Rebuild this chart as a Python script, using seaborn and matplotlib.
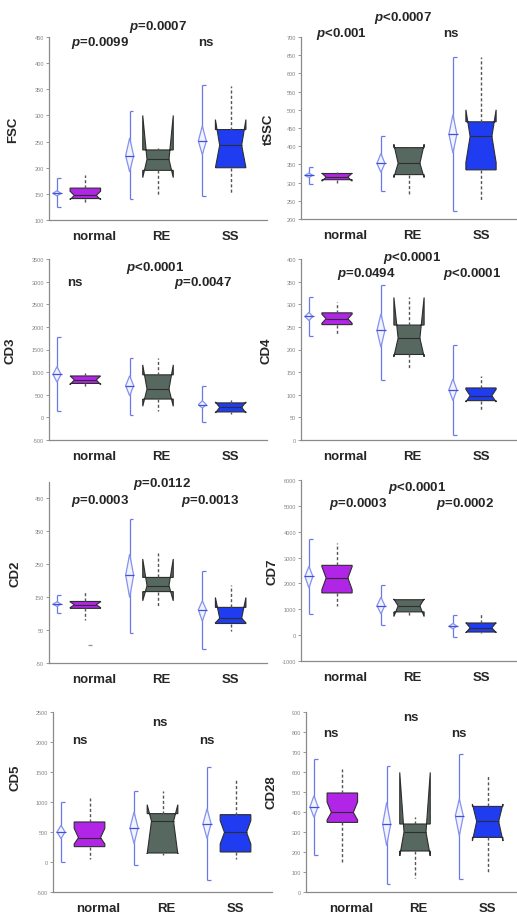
import numpy as np
import pandas as pd
import matplotlib.pyplot as plt
import matplotlib.path as mpath
import seaborn as sns

sns.set_theme(style="white")
plt.rcParams['font.family'] = ['Liberation Sans', 'DejaVu Sans']
plt.rcParams['mathtext.fontset'] = 'custom'
plt.rcParams['mathtext.it'] = 'Liberation Sans:italic:bold'
plt.rcParams['mathtext.rm'] = 'Liberation Sans:bold'

groups = ['normal', 'RE', 'SS']
box_colors = ['#b025e6', '#56685f', '#1f3cf0']

# box: min, q1, median, q3, max ; notch: low, high
# diamond: mean, 95% ci, +/- sd whisker
fsc_box = [[133, 141, 147, 161, 187], [145, 195, 216, 234, 238], [150, 200, 243, 273, 357]]
fsc_notch = [[139, 155], [181, 300], [200, 292]]
fsc_mean = [151, 223, 251]
fsc_ci = [[146, 156], [192, 257], [225, 280]]
fsc_sd = [[124, 180], [140, 308], [145, 358]]

tssc_box = [[300, 308, 315, 325, 330], [270, 322, 353, 396, 398], [250, 335, 427, 467, 646]]
tssc_notch = [[304, 326], [314, 405], [355, 500]]
tssc_mean = [320, 353, 433]
tssc_ci = [[314, 326], [328, 380], [381, 487]]
tssc_sd = [[296, 342], [278, 428], [222, 646]]

cd3_box = [[680, 750, 830, 915, 1000], [150, 405, 625, 940, 1310], [80, 120, 220, 320, 420]]
cd3_notch = [[720, 915], [245, 1160], [100, 340]]
cd3_mean = [950, 700, 280]
cd3_ci = [[780, 1120], [478, 920], [206, 368]]
cd3_sd = [[130, 1787], [60, 1310], [-110, 684]]

cd4_box = [[231, 255, 268, 281, 306], [157, 189, 225, 254, 315], [63, 87, 98, 115, 142]]
cd4_notch = [[258, 278], [184, 315], [84, 112]]
cd4_mean = [273, 242, 111]
cd4_ci = [[264, 282], [205, 279], [87, 135]]
cd4_sd = [[229, 317], [133, 343], [10, 210]]

cd2_box = [[82, 116, 127, 137, 167], [124, 167, 185, 210, 283], [48, 70, 86, 119, 187]]
cd2_notch = [[118, 136], [139, 266], [72, 149]]
cd2_mean = [129, 217, 112]
cd2_ci = [[122, 136], [149, 281], [77, 139]]
cd2_sd = [[102, 156], [40, 389], [-8, 230]]
cd2_outlier = [5]

cd7_box = [[1118, 1632, 2210, 2700, 3560], [730, 900, 1130, 1370, 1400], [100, 120, 283, 470, 860]]
cd7_notch = [[1760, 2650], [720, 1400], [95, 480]]
cd7_mean = [2275, 1144, 347]
cd7_ci = [[1825, 2660], [823, 1465], [244, 450]]
cd7_sd = [[835, 3727], [373, 1928], [-64, 797]]

cd5_box = [[56, 256, 406, 667, 1067], [120, 150, 680, 806, 1180], [56, 167, 494, 789, 1389]]
cd5_notch = [[300, 560], [135, 955], [300, 690]]
cd5_mean = [500, 572, 639]
cd5_ci = [[389, 611], [306, 833], [389, 889]]
cd5_sd = [[0, 1000], [-56, 1183], [-306, 1583]]

cd28_box = [[152, 348, 398, 495, 615], [72, 205, 300, 340, 373], [100, 273, 353, 428, 585]]
cd28_notch = [[360, 450], [180, 598], [255, 440]]
cd28_mean = [426, 339, 381]
cd28_ci = [[373, 482], [231, 448], [281, 465]]
cd28_sd = [[186, 666], [38, 632], [67, 690]]

W, H = 517, 920
BOX_W = 0.42
NOTCH = 0.36  # half width of the box at the median, as a fraction of the box width

panels = [
    dict(label='FSC', box=fsc_box, notch=fsc_notch, mean=fsc_mean, ci=fsc_ci, sd=fsc_sd,
         ylim=(100, 450), ticks=np.arange(100, 451, 50), rect=(49, 38, 267, 221), ylab=(-0.138, 0.5),
         texts=[(r'$\mathit{p}$=0.0099', 100, 43), (r'$\mathit{p}$=0.0007', 158, 27), ('ns', 206, 43)]),
    dict(label='tSSC', box=tssc_box, notch=tssc_notch, mean=tssc_mean, ci=tssc_ci, sd=tssc_sd,
         ylim=(200, 700), ticks=np.arange(200, 701, 50), rect=(301, 38, 517, 220), ylab=(-0.12, 0.5),
         texts=[(r'$\mathit{p}$<0.001', 341, 34), (r'$\mathit{p}$<0.0007', 403, 18), ('ns', 451, 34)]),
    dict(label='CD3', box=cd3_box, notch=cd3_notch, mean=cd3_mean, ci=cd3_ci, sd=cd3_sd,
         ylim=(-500, 3500), ticks=np.arange(-500, 3501, 500), rect=(49, 260, 267, 441), ylab=(-0.147, 0.5),
         texts=[('ns', 75, 283), (r'$\mathit{p}$<0.0001', 155, 268), (r'$\mathit{p}$=0.0047', 203, 283)]),
    dict(label='CD4', box=cd4_box, notch=cd4_notch, mean=cd4_mean, ci=cd4_ci, sd=cd4_sd,
         ylim=(0, 400), ticks=np.arange(0, 401, 50), rect=(301, 260, 517, 441), ylab=(-0.13, 0.5),
         texts=[(r'$\mathit{p}$=0.0494', 366, 274), (r'$\mathit{p}$<0.0001', 412, 258), (r'$\mathit{p}$<0.0001', 472, 274)]),
    dict(label='CD2', box=cd2_box, notch=cd2_notch, mean=cd2_mean, ci=cd2_ci, sd=cd2_sd,
         ylim=(-50, 500), ticks=np.arange(-50, 451, 100), rect=(49, 483, 267, 664), ylab=(-0.128, 0.5),
         texts=[(r'$\mathit{p}$=0.0003', 100, 501), (r'$\mathit{p}$=0.0112', 162, 484), (r'$\mathit{p}$=0.0013', 210, 501)]),
    dict(label='CD7', box=cd7_box, notch=cd7_notch, mean=cd7_mean, ci=cd7_ci, sd=cd7_sd,
         ylim=(-1000, 6000), ticks=np.arange(-1000, 6001, 1000), rect=(301, 481, 517, 662), ylab=(-0.106, 0.5),
         texts=[(r'$\mathit{p}$=0.0003', 358, 504), (r'$\mathit{p}$<0.0001', 417, 488), (r'$\mathit{p}$=0.0002', 465, 504)]),
    dict(label='CD5', box=cd5_box, notch=cd5_notch, mean=cd5_mean, ci=cd5_ci, sd=cd5_sd,
         ylim=(-500, 2500), ticks=np.arange(-500, 2501, 500), rect=(53, 713, 272, 893), ylab=(-0.146, 0.64),
         texts=[('ns', 80, 741), ('ns', 160, 723), ('ns', 207, 741)]),
    dict(label='CD28', box=cd28_box, notch=cd28_notch, mean=cd28_mean, ci=cd28_ci, sd=cd28_sd,
         ylim=(0, 900), ticks=np.arange(0, 901, 100), rect=(306, 713, 524, 893), ylab=(-0.133, 0.56),
         texts=[('ns', 331, 734), ('ns', 411, 718), ('ns', 459, 734)]),
]


def draw_panel(fig, p):
    x0, y0, x1, y1 = p['rect']
    ax = fig.add_axes([x0 / W, 1 - y1 / H, (x1 - x0) / W, (y1 - y0) / H])

    df = pd.DataFrame({'group': np.repeat(groups, 5), 'value': np.concatenate(p['box'])})
    sns.boxplot(data=df, x='group', y='value', hue='group', order=groups, hue_order=groups,
                palette=box_colors, saturation=1, width=BOX_W, whis=(0, 100), notch=True,
                showcaps=False, linecolor='#2e2e2e', linewidth=0.8,
                whiskerprops=dict(linestyle=(0, (2.2, 1.6)), color='#555555', linewidth=1.0),
                legend=False, ax=ax)

    # set the notch limits, shallower notches like JMP
    boxes = sorted([pt for pt in ax.patches], key=lambda pt: pt.get_path().vertices[:, 0].mean())
    for i, (patch, (lo, hi)) in enumerate(zip(boxes, p['notch'])):
        verts = patch.get_path().vertices.copy()
        verts[[2, 9], 1] = lo
        verts[[4, 7], 1] = hi
        verts[3, 0] = i + BOX_W * NOTCH
        verts[8, 0] = i - BOX_W * NOTCH
        patch.set_path(mpath.Path(verts))

    for line in ax.lines:
        xd, yd = np.asarray(line.get_xdata(), float), np.asarray(line.get_ydata(), float)
        if len(xd) == 2 and yd[0] == yd[1] and xd[0] != xd[1]:
            c = round(xd.mean())
            line.set_xdata([c - BOX_W * NOTCH, c + BOX_W * NOTCH])

    # means diamonds with sd whiskers
    for i in range(3):
        xc = i - 0.39
        hw = 0.055
        m = p['mean'][i]
        lo, hi = p['ci'][i]
        slo, shi = p['sd'][i]
        ax.vlines(xc, slo, shi, color='#6a78e6', lw=0.9, zorder=3)
        ax.hlines([slo, shi], xc, xc + 0.05, color='#6a78e6', lw=0.9, zorder=3)
        ax.fill([xc, xc + hw, xc, xc - hw], [hi, m, lo, m], facecolor='#f2f3ff',
                edgecolor='#8492ee', lw=0.9, zorder=4)
        ax.hlines(m, xc - hw * 1.2, xc + hw * 1.2, color='#4050d8', lw=0.9, zorder=5)

    if p['label'] == 'CD2':
        ax.plot([0.06], cd2_outlier, marker='_', color='#999999', ms=3, lw=0)

    ax.set_xlim(-0.5, 2.5)
    ax.set_ylim(*p['ylim'])
    ax.set_yticks(p['ticks'])
    ax.set_yticklabels([str(t) for t in p['ticks']])
    ax.set_xticks([0.12, 1.05, 2.0])
    ax.set_xticklabels(groups, fontsize=9.5, fontweight='bold')
    ax.set_xticks([0.5, 1.5], minor=True)
    ax.tick_params(axis='x', which='major', length=0, pad=7)
    ax.tick_params(axis='x', which='minor', length=3, direction='inout', color='#888888', width=0.7)
    ax.tick_params(axis='y', labelsize=4, labelcolor='#858585', length=2, width=0.6,
                   color='#888888', pad=1.5, left=True)
    ax.set_xlabel('')
    ax.set_ylabel(p['label'], fontsize=9.5, fontweight='bold')
    ax.yaxis.set_label_coords(*p['ylab'])
    sns.despine(ax=ax)
    for s in ['left', 'bottom']:
        ax.spines[s].set_color('#8a8a8a')
        ax.spines[s].set_linewidth(0.9)

    for s, tx, ty in p['texts']:
        fig.text(tx / W, 1 - ty / H, s, ha='center', va='center', fontsize=9.5, fontweight='bold')
    return ax


fig = plt.figure(figsize=(W / 100, H / 100), dpi=100)
for p in panels:
    draw_panel(fig, p)

fig.savefig('out.png', dpi=100)
